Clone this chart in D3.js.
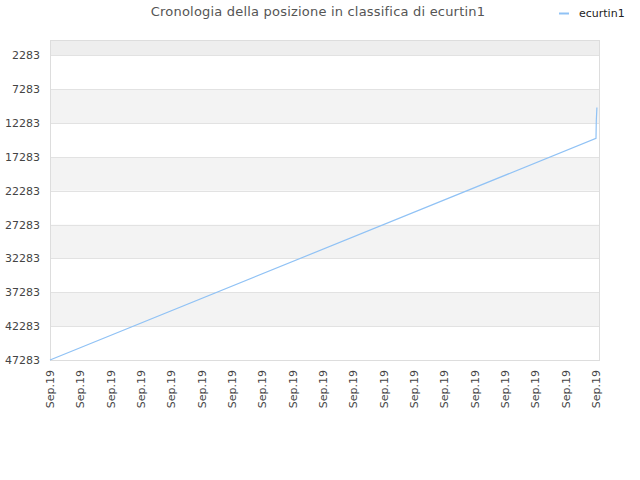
<!DOCTYPE html>
<html>
<head>
<meta charset="utf-8">
<script src="https://cdn.jsdelivr.net/npm/d3@7/dist/d3.min.js"></script>
<style>
body { margin: 0; background: #fff; }
text { font-family: "DejaVu Sans", sans-serif; }
</style>
</head>
<body>
<svg id="chart" width="640" height="480"></svg>
<script>
const title = "Cronologia della posizione in classifica di ecurtin1"
const seriesName = "ecurtin1"

// x tick labels (one per day slot)
const xLabels = ["Sep.19","Sep.19","Sep.19","Sep.19","Sep.19","Sep.19","Sep.19","Sep.19","Sep.19","Sep.19",
    "Sep.19","Sep.19","Sep.19","Sep.19","Sep.19","Sep.19","Sep.19","Sep.19","Sep.19"]
const yTicks = [2283, 7283, 12283, 17283, 22283, 27283, 32283, 37283, 42283, 47283]

// ranking points: position along x (slot index) and rank
const pointX = [0, 18, 18.01, 18.03]
const pointRank = [47283, 14530, 11880, 9960]

const svg = d3.select('#chart')
const plotLeft = 50, plotRight = 600, plotTop = 40, plotBottom = 360

const x = d3.scaleLinear().domain([0, 18]).range([plotLeft, 596])
const y = d3.scaleLinear().domain([0, 47283]).range([plotTop, plotBottom])

// alternating bands
const bandEdges = [0].concat(yTicks)
svg.append('g')
    .selectAll('rect')
    .data(d3.pairs(bandEdges))
    .join('rect')
    .attr('x', plotLeft)
    .attr('width', plotRight - plotLeft)
    .attr('y', d => y(d[0]))
    .attr('height', d => y(d[1]) - y(d[0]))
    .attr('fill', (d, i) => i == 0 ? '#eeeeee' : (i % 2 == 0 ? '#f3f3f3' : '#ffffff'))

// grid lines
svg.append('g')
    .selectAll('line')
    .data(yTicks)
    .join('line')
    .attr('x1', plotLeft).attr('x2', plotRight)
    .attr('y1', d => Math.round(y(d)) + 0.5).attr('y2', d => Math.round(y(d)) + 0.5)
    .attr('stroke', '#e2e2e2')

svg.append('rect')
    .attr('x', plotLeft + 0.5).attr('y', plotTop + 0.5)
    .attr('width', plotRight - plotLeft - 1).attr('height', plotBottom - plotTop)
    .attr('fill', 'none')
    .attr('stroke', '#dddddd')

// y axis labels
svg.append('g')
    .selectAll('text')
    .data(yTicks)
    .join('text')
    .attr('x', 40)
    .attr('y', d => y(d) + 4)
    .attr('text-anchor', 'end')
    .attr('font-size', 11)
    .attr('fill', '#444')
    .text(d => d)

// x axis labels
svg.append('g')
    .selectAll('text')
    .data(xLabels)
    .join('text')
    .attr('transform', (d, i) => `translate(${x(i) + 4},370) rotate(-90)`)
    .attr('text-anchor', 'end')
    .attr('font-size', 11)
    .attr('fill', '#444')
    .text(d => d)

// line
const pts = pointX.map((px, i) => [px, pointRank[i]])
svg.append('path')
    .datum(pts)
    .attr('d', d3.line().x(d => x(d[0])).y(d => y(d[1])))
    .attr('fill', 'none')
    .attr('stroke', '#90c2f5')
    .attr('stroke-width', 1.2)

// title
svg.append('text')
    .attr('x', 318).attr('y', 16)
    .attr('text-anchor', 'middle')
    .attr('font-size', 13)
    .attr('letter-spacing', 0.2)
    .attr('fill', '#555')
    .text(title)

// legend
svg.append('line')
    .attr('x1', 559).attr('x2', 569)
    .attr('y1', 13.5).attr('y2', 13.5)
    .attr('stroke', '#90c2f5')
    .attr('stroke-width', 2)
svg.append('text')
    .attr('x', 579).attr('y', 17)
    .attr('font-size', 11)
    .attr('fill', '#222')
    .text(seriesName)
</script>
</body>
</html>
